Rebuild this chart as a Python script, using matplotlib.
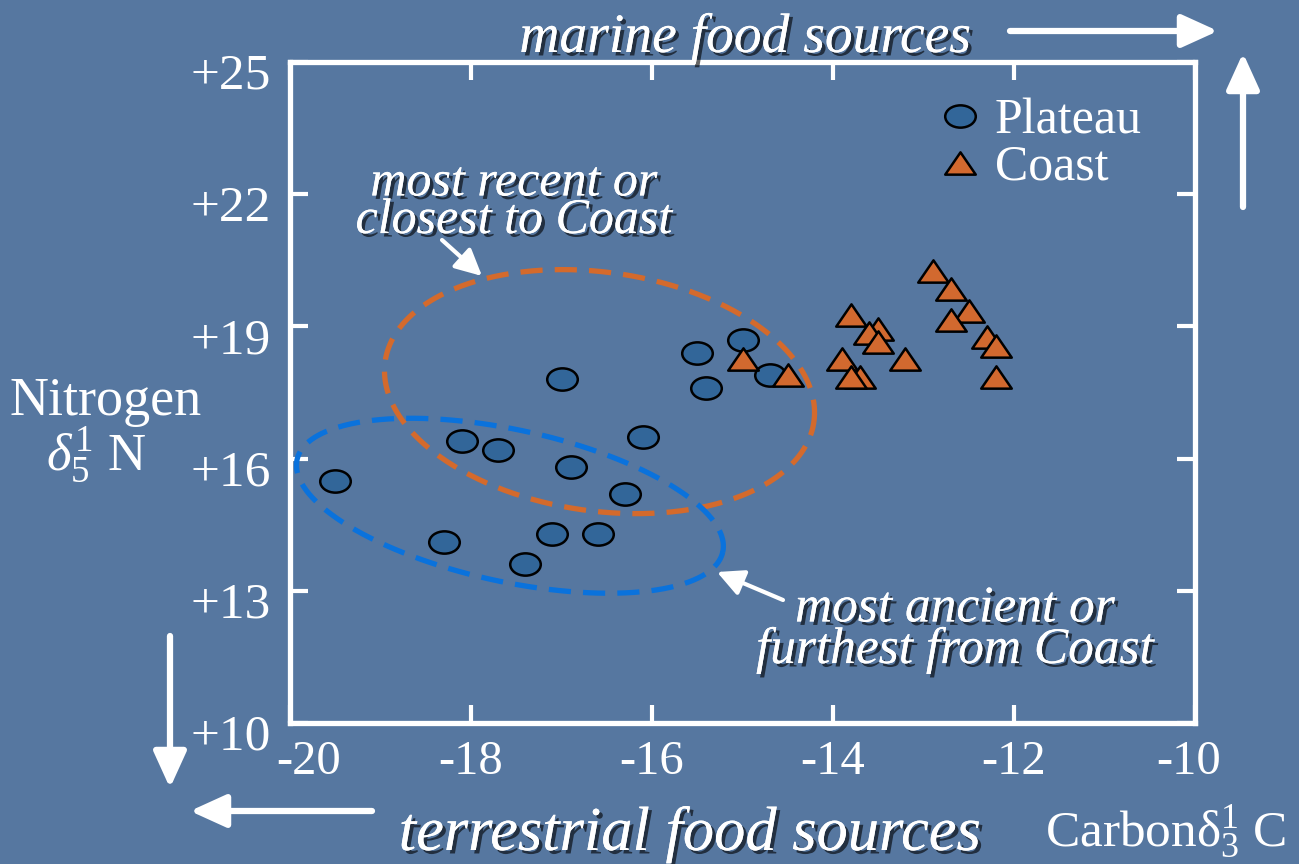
import numpy as np
import matplotlib
matplotlib.use('Agg')
import matplotlib.pyplot as plt
import matplotlib.patheffects as pe
from matplotlib.path import Path
from matplotlib.patches import FancyArrowPatch
from matplotlib.transforms import Affine2D, ScaledTranslation

# data (delta13C, delta15N)
plateau_c = [-19.5, -18.3, -18.1, -17.7, -17.4, -17.1, -16.9, -17.0, -16.6, -16.3, -16.1, -15.5, -15.4, -15.0, -14.7]
plateau_n = [15.5, 14.1, 16.4, 16.2, 13.6, 14.3, 15.8, 17.8, 14.3, 15.2, 16.5, 18.4, 17.6, 18.7, 17.9]
coast_c = [-15.0, -14.5, -13.8, -13.5, -13.6, -13.5, -13.9, -13.7, -13.8, -13.2,
           -12.9, -12.7, -12.5, -12.7, -12.3, -12.2, -12.2]
coast_n = [18.25, 17.9, 19.25, 18.95, 18.85, 18.65, 18.25, 17.85, 17.85, 18.25,
           20.25, 19.85, 19.35, 19.15, 18.75, 18.55, 17.85]
xticks = [-20, -18, -16, -14, -12, -10]
xtick_labels = ['-20', '-18', '-16', '-14', '-12', '-10']
yticks = [10, 13, 16, 19, 22, 25]
ytick_labels = ['+10', '+13', '+16', '+19', '+22', '+25']

bg = '#5677a0'
plt.rcParams['font.family'] = ['Liberation Serif', 'DejaVu Serif']
plt.rcParams['mathtext.fontset'] = 'custom'
plt.rcParams['mathtext.rm'] = 'Liberation Serif'
plt.rcParams['mathtext.it'] = 'Liberation Serif:italic'

W, H = 1299, 864
fig = plt.figure(figsize=(W / 100, H / 100), dpi=100, facecolor=bg)
L, R, T, B = 290, 1195, 62, 723
ax = fig.add_axes([L / W, 1 - B / H, (R - L) / W, (B - T) / H])
ax.set_facecolor('none')
ax.set_xlim(-20, -10)
ax.set_ylim(10, 25)
for s in ax.spines.values():
    s.set_color('white')
    s.set_linewidth(3.8)
ax.set_xticks(xticks, xtick_labels)
ax.set_yticks(yticks, ytick_labels)
ax.tick_params(direction='in', length=13, width=3, color='white', top=True, right=True,
               labelcolor='white')
ax.tick_params(axis='x', pad=12, labelsize=35)
ax.tick_params(axis='y', pad=14, labelsize=37)
px = 1 / 100.0
for lab in ax.get_yticklabels():
    lab.set_transform(lab.get_transform() + ScaledTranslation(0, -9 * px, fig.dpi_scale_trans))
xl = ax.get_xticklabels()
xl[0].set_transform(xl[0].get_transform() + ScaledTranslation(19 * px, 0, fig.dpi_scale_trans))
xl[-1].set_transform(xl[-1].get_transform() + ScaledTranslation(-6 * px, 0, fig.dpi_scale_trans))

# marker shapes: flattened circle and flattened triangle
oval = Path.unit_circle().transformed(Affine2D().scale(1, 0.73))
tri = Path([(-1, -0.73), (1, -0.73), (0, 0.73), (-1, -0.73)],
           [Path.MOVETO, Path.LINETO, Path.LINETO, Path.CLOSEPOLY])

# dashed ellipses (sizes in pixels, centre in data units)
sx = (R - L) / 10.0
sy = (B - T) / 15.0
def ellipse(cx, cy, a, b, ang, col):
    t = np.linspace(0, 2 * np.pi, 400)
    p = np.deg2rad(ang)
    ex = a * np.cos(t) * np.cos(p) - b * np.sin(t) * np.sin(p)
    ey = a * np.cos(t) * np.sin(p) + b * np.sin(t) * np.cos(p)
    ax.plot(cx + ex / sx, cy + ey / sy, color=col, lw=3.8, ls=(0, (4.2, 2.3)), zorder=2)

ellipse(-16.58, 17.52, 216.5, 119.4, -8, '#d46a2c')
ellipse(-17.57, 14.93, 217.8, 76.0, -12.25, '#0a72dc')

h1, = ax.plot(plateau_c, plateau_n, ls='none', marker=oval, ms=22, mfc='#326699',
              mec='black', mew=1.8, zorder=3)
h2, = ax.plot(coast_c, coast_n, ls='none', marker=tri, ms=22, mfc='#d2692f',
              mec='black', mew=1.8, zorder=4)
ax.legend([h1, h2], ['Plateau', 'Coast'], loc='upper left',
          bbox_to_anchor=((935 - L) / (R - L), (B - 98) / (B - T)),
          frameon=False, fontsize=36, borderpad=0, borderaxespad=0,
          handlelength=1.0, handletextpad=0.2, labelspacing=0.0, labelcolor='white')

shadow = [pe.withSimplePatchShadow(offset=(2.5, -2.5), shadow_rgbFace='black', alpha=0.6), pe.Normal()]

def ftext(x, y, s, **kw):
    fig.text(x / W, 1 - y / H, s, color='white', **kw)

def farrow(x0, y0, x1, y1, lw, hl, hw):
    fig.add_artist(FancyArrowPatch((x0 / W, 1 - y0 / H), (x1 / W, 1 - y1 / H),
                                   transform=fig.transFigure, color='white', lw=lw,
                                   arrowstyle='-|>,head_length=%s,head_width=%s' % (hl, hw),
                                   mutation_scale=10, shrinkA=0, shrinkB=0, zorder=5))

ftext(745, 52, 'marine food sources', fontsize=40, style='italic', ha='center', va='baseline',
      path_effects=shadow)
ftext(690, 850, 'terrestrial food sources', fontsize=45, style='italic', ha='center', va='baseline',
      path_effects=shadow)
ftext(514, 202, 'most recent or\nclosest to Coast', fontsize=36, style='italic', ha='center',
      va='center', linespacing=0.75, path_effects=shadow)
ftext(955, 630, 'most ancient or\nfurthest from Coast', fontsize=37, style='italic', ha='center',
      va='center', linespacing=0.85, path_effects=shadow)
ftext(106, 415, 'Nitrogen', fontsize=39, ha='center', va='baseline')
ftext(96, 470, r'$\delta^1_5$ N', fontsize=38, ha='center', va='baseline')
ftext(1045, 846, r'Carbon$\mathrm{\delta}^1_3$ C', fontsize=37, ha='left', va='baseline')

farrow(1010, 31, 1218, 31, 4.5, 2.2, 1.0)
farrow(1243, 207, 1243, 53, 4.5, 2.2, 1.0)
farrow(170, 636, 170, 788, 4.5, 2.2, 1.0)
farrow(372, 811, 190, 811, 4.5, 2.2, 1.0)
farrow(442, 240, 482, 276, 3, 1.6, 0.8)
farrow(783, 600, 717, 572, 3, 1.6, 0.8)

fig.savefig('out.png', dpi=100, facecolor=bg)
